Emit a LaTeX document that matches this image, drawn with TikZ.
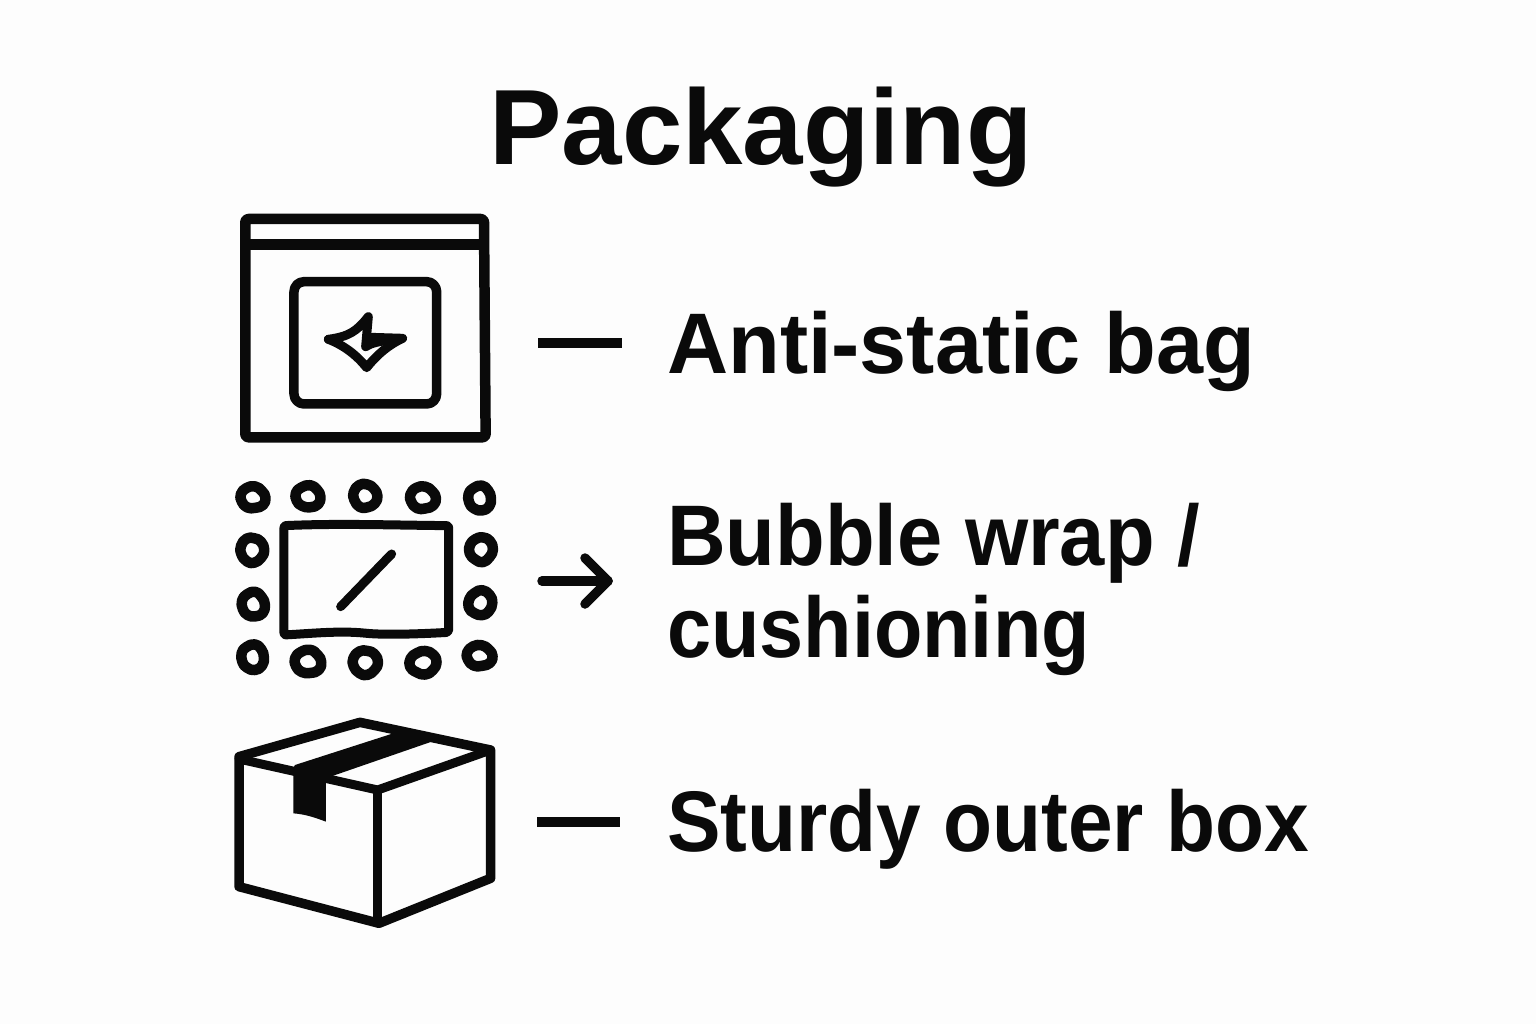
\documentclass[tikz,border=0pt]{standalone}
\usepackage{fontspec}
\usepackage{graphicx}
\setmainfont{Liberation Sans}
\usetikzlibrary{calc}
\definecolor{ink}{HTML}{0A0A0A}
\definecolor{paper}{HTML}{FDFDFD}
\tikzset{
  title/.style={font=\fontsize{107}{110}\selectfont\bfseries,text=ink,inner sep=0pt,anchor=base,xscale=1.015},
  lab/.style={font=\fontsize{86}{90}\selectfont\bfseries,text=ink,inner sep=0pt,align=left},
  icon/.style={draw=ink,line width=10.5pt,line join=round,line cap=round},
  dashline/.style={draw=ink,line width=10pt},
  zoomA/.style={shift={(220,200)},x=.3333pt,y=-.3333pt},
  zoomB/.style={shift={(220,470)},x=.3333pt,y=-.3333pt},
  zoomC/.style={shift={(220,705)},x=.3333pt,y=-.3333pt}
}
\begin{document}
\begin{tikzpicture}[x=1pt,y=-1pt]
\path[use as bounding box,fill=paper] (0,0) rectangle (1536,1024);
\node[title] (ttl) at (761,165) {Packaging};
% labels
\node[lab,anchor=base west,xscale=.984] (l1) at (667,373) {Anti-static bag};
\node[lab,anchor=west,xscale=.945] (l2) at (667,589) {Bubble wrap /\\[2pt]\scalebox{.975}[1]{cushioning}};
\node[lab,anchor=base west,xscale=.933] (l3) at (667,851) {Sturdy outer box};
% bag icon
\begin{scope}[zoomA]
\draw[icon,rounded corners=3pt] (76,57) -- (792,57) -- (797,712) -- (76,712) -- cycle;
\draw[icon,line cap=butt] (76,133) -- (792,133);
\draw[icon,line width=9.5pt,rounded corners=10pt] (222,245) -- (650,245) -- (650,612) -- (222,612) -- cycle;
\draw[icon,line width=9pt] (325,418) .. controls (385,410) and (410,395) .. (445,350) -- (437,440) .. controls (455,428) and (480,425) .. (505,420);
\draw[icon,line width=9pt] (450,412) -- (548,415) .. controls (505,435) and (470,465) .. (440,503) .. controls (410,465) and (370,435) .. (325,418);
\end{scope}
\coordinate (b1) at (538,343);
\coordinate (e1) at (622,343);
\draw[dashline] (b1) -- (e1);
% bubble icon
\begin{scope}[zoomB]
\foreach \cx/\cy/\rx/\ry/\rot in {
 99/83/37/33/10, 264/80/38/33/-20, 436/78/35/36/40, 609/84/38/34/20, 779/85/35/37/-30,
 97/240/34/38/70, 783/238/34/37/110, 100/404/35/37/-10, 781/399/35/37/150,
 98/562/35/38/-40, 264/576/40/35/-5, 436/577/36/37/80, 609/578/39/35/130, 779/558/38/32/20}
{\draw[icon,line width=10.5pt] plot[smooth cycle,tension=.8,samples=9,domain=0:320,variable=\t]
   ({\cx+\rx*cos(\t)*(1+.06*sin(2*\t+\rot))},{\cy+\ry*sin(\t)*(1+.06*sin(3*\t+2*\rot))});}
\draw[icon,line width=9pt,rounded corners=2pt] (192,167) .. controls (350,160) and (500,165) .. (686,167) -- (686,487) .. controls (600,492) and (500,495) .. (440,490) .. controls (360,482) and (280,490) .. (192,495) -- cycle;
\draw[icon,line width=9pt] (362,410) -- (515,252);
\end{scope}
\coordinate (b2) at (542,581);
\coordinate (e2) at (608,581);
\draw[icon,line width=9.5pt] (b2) -- (e2);
\draw[icon,line width=9.5pt] ($(e2)+(-23,-23)$) -- (e2) -- ($(e2)+(-23,23)$);
% box icon
\begin{scope}[zoomC]
\draw[icon,line width=9.5pt] (57,155) -- (420,52) -- (812,135) -- (812,520) -- (477,655) -- (57,545) -- cycle;
\draw[icon,line width=9pt] (57,162) -- (473,255) -- (812,135);
\draw[icon,line width=8.5pt,line cap=butt] (473,255) -- (473,655);
\fill[ink] (225,180) -- (520,85) -- (635,110) -- (340,212) -- (318,230) -- (318,350) .. controls (290,340) and (260,328) .. (220,325) -- (220,190) -- cycle;
\end{scope}
\coordinate (b3) at (537,822);
\coordinate (e3) at (620,822);
\draw[dashline] (b3) -- (e3);
\end{tikzpicture}
\end{document}
